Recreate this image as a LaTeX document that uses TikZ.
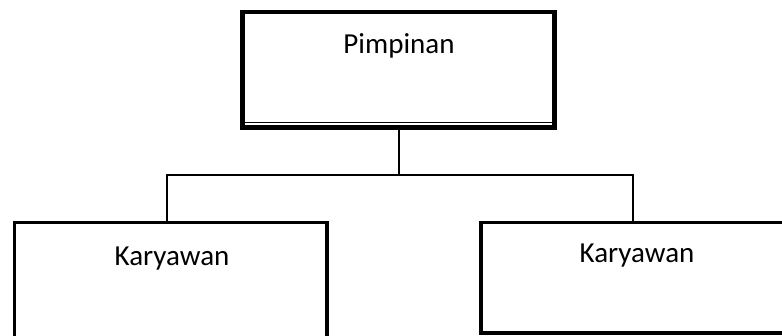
\documentclass[tikz,border=0pt]{standalone}
\usepackage{fontspec}
\setmainfont{Carlito}
\begin{document}
\begin{tikzpicture}[x=1pt,y=-1pt,
  box/.style={draw=black,rectangle,inner sep=0pt,outer sep=0pt,fill=white},
  conn/.style={draw=black,line width=2pt},
  lbl/.style={inner sep=0pt,anchor=base,font=\fontsize{29}{34}\selectfont}]
\useasboundingbox (0,0) rectangle (782,335);
\clip (0,0) rectangle (782,335);
% boxes
\node[box,line width=4.5pt,minimum width=312pt,minimum height=115.5pt] (top) at (398.5,69.75) {};
\draw[line width=1.6pt] ([yshift=5pt]top.south west) -- ([yshift=5pt]top.south east);
\node[box,line width=3.6pt,minimum width=312.5pt,minimum height=137.5pt] (left) at (170.75,291.25) {};
\node[box,line width=3.6pt,minimum width=319pt,minimum height=110.5pt] (right) at (640.5,277.75) {};
% labels
\node[lbl] (tl) at (399,53) {Pimpinan};
\node[lbl] (ll) at (172,265) {Karyawan};
\node[lbl] (rl) at (637,262) {Karyawan};
% connectors
\coordinate (bl) at (167,175);
\coordinate (br) at (632.5,175);
\draw[conn] (top.south) -- (top.south |- bl);
\draw[conn,line cap=rect] (bl) -- (br);
\draw[conn] (bl) -- (bl |- left.north);
\draw[conn] (br) -- (br |- right.north);
\end{tikzpicture}
\end{document}
